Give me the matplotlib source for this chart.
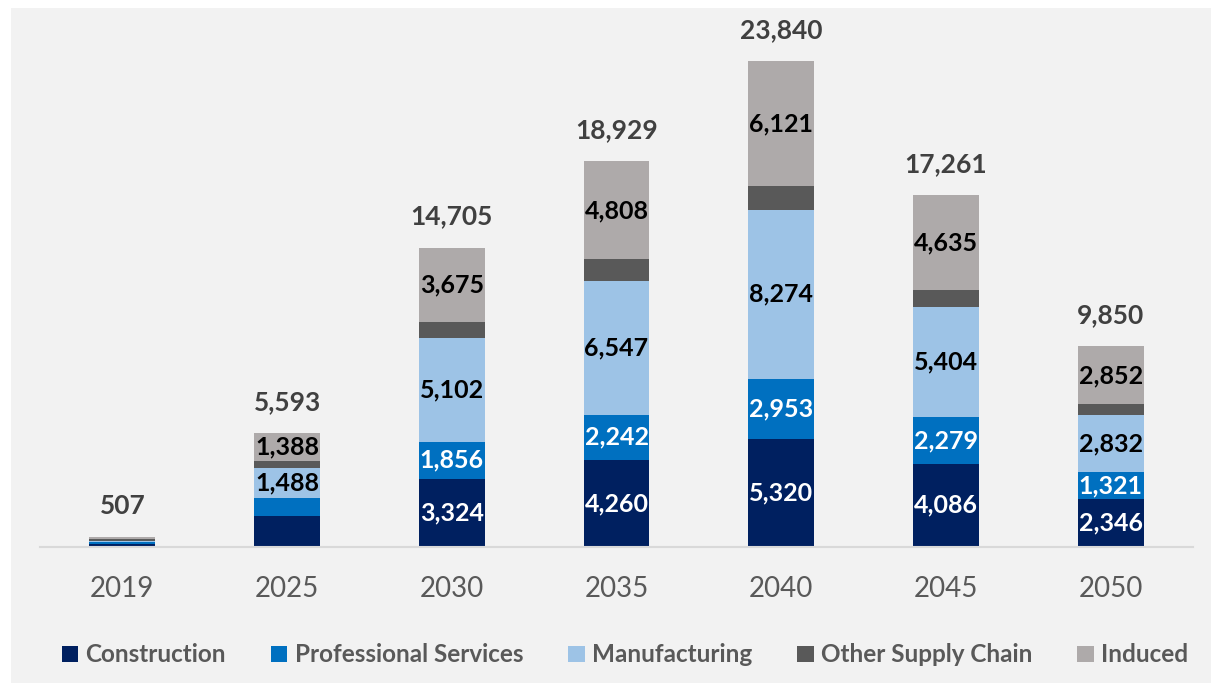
import matplotlib.pyplot as plt
from matplotlib.patches import Rectangle
import numpy as np

years = ["2019", "2025", "2030", "2035", "2040", "2045", "2050"]
construction = [127, 1500, 3324, 4260, 5320, 4086, 2346]
professional = [110, 890, 1856, 2242, 2953, 2279, 1321]
manufacturing = [80, 1488, 5102, 6547, 8274, 5404, 2832]
other_supply = [60, 327, 748, 1072, 1172, 857, 499]
induced = [130, 1388, 3675, 4808, 6121, 4635, 2852]
totals = [507, 5593, 14705, 18929, 23840, 17261, 9850]

series = [
    ("Construction", construction, "#002060", "white"),
    ("Professional Services", professional, "#0070C0", "white"),
    ("Manufacturing", manufacturing, "#9DC3E6", "black"),
    ("Other Supply Chain", other_supply, "#595959", None),
    ("Induced", induced, "#AEAAAA", "black"),
]
# segments left without a value label
unlabeled = {("Construction", "2025")}

plt.rcParams['font.family'] = ['Lato', 'DejaVu Sans']

W, H = 1211, 683
fig = plt.figure(figsize=(W / 100, H / 100), dpi=100, facecolor="white")
fig.patches.append(Rectangle((11 / W, 0), 1 - 11 / W, 1 - 8 / H,
                             transform=fig.transFigure, facecolor="#F2F2F2",
                             edgecolor="none", zorder=-10))

# axes box in pixel coordinates
left_px, right_px, bottom_px, top_px = 40, 1193, 547, 15
ax = fig.add_axes([left_px / W, 1 - bottom_px / H,
                   (right_px - left_px) / W, (bottom_px - top_px) / H])
ax.set_facecolor("none")
ax.set_zorder(1)

scale = 49.1  # data units per pixel
ax.set_ylim(0, (bottom_px - top_px) * scale)
x = np.arange(len(years))
ax.set_xlim(-0.5, len(years) - 0.5)

bottom = np.zeros(len(years))
min_label = 1200
for name, vals, color, tcolor in series:
    vals = np.array(vals, dtype=float)
    ax.bar(x, vals, width=0.4, bottom=bottom, color=color, label=name,
           edgecolor="none", zorder=2)
    if tcolor is not None:
        for xi, yr, b, v in zip(x, years, bottom, vals):
            if v >= min_label and (name, yr) not in unlabeled:
                ax.text(xi, b + v / 2, f"{int(v):,}", ha="center", va="center",
                        color=tcolor, fontsize=18, fontweight="bold", zorder=3)
    bottom += vals

for xi, t in zip(x, totals):
    ax.text(xi, t + 31 * scale, f"{t:,}", ha="center", va="center",
            color="#404040", fontsize=19, fontweight="bold")

for s in ["top", "right", "left"]:
    ax.spines[s].set_visible(False)
ax.spines["bottom"].set_color("#D9D9D9")
ax.spines["bottom"].set_linewidth(1.5)
ax.set_yticks([])
ax.set_xticks(x)
ax.set_xticklabels(years, fontsize=20, color="#595959")
ax.tick_params(axis="x", length=0, pad=21)

handles, labels = ax.get_legend_handles_labels()
leg = fig.legend(handles, labels, loc="center", ncol=5,
                 bbox_to_anchor=(0.516, 1 - 655 / H), frameon=False,
                 prop={"size": 17.5, "weight": "bold"}, labelcolor="#595959",
                 handlelength=0.68, handleheight=0.68, handletextpad=0.3,
                 columnspacing=1.85)

fig.savefig("out.png", dpi=100, facecolor=fig.get_facecolor())
